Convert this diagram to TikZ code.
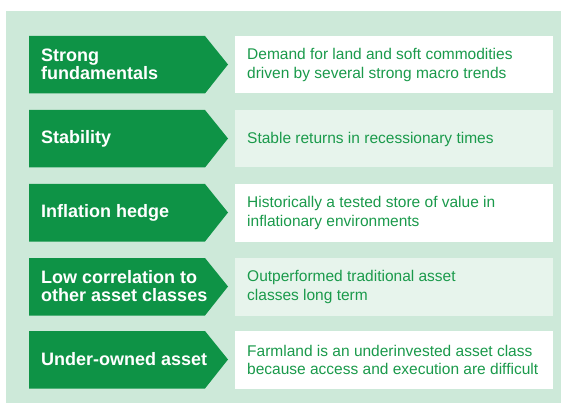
\documentclass[tikz,border=0pt]{standalone}
\usepackage{fontspec}
\setmainfont{Liberation Sans}
\definecolor{panel}{HTML}{CDE9D9}
\definecolor{arrowgreen}{HTML}{0E9346}
\definecolor{lightbox}{HTML}{E7F4EC}
\definecolor{textgreen}{HTML}{1A9A4B}
\tikzset{
  lefttext/.style={anchor=west, align=left, text=white, font=\fontsize{18}{18}\selectfont\bfseries, inner sep=0pt},
  righttext/.style={anchor=west, align=left, text=textgreen, font=\fontsize{15.5}{18.5}\selectfont, inner sep=0pt},
}
\begin{document}
\begin{tikzpicture}[x=1pt,y=-1pt]
\useasboundingbox (0,0) rectangle (561,403);
\fill[white] (0,0) rectangle (561,403);
\fill[panel] (6,11) rectangle (561,403);
\foreach \t/\fc/\L/\R [count=\i] in {
  36/white/{Strong\\fundamentals}/{Demand for land and soft commodities\\driven by several strong macro trends},
  110/lightbox/{Stability}/{Stable returns in recessionary times},
  184/white/{Inflation hedge}/{Historically a tested store of value in\\inflationary environments},
  258/lightbox/{Low correlation to\\other asset classes}/{Outperformed traditional asset\\classes long term},
  331/white/{Under-owned asset}/{Farmland is an underinvested asset class\\because access and execution are difficult}} {
  \fill[arrowgreen] (29,\t) -- (205,\t) -- (228,\t+28.5) -- (205,\t+57.5) -- (29,\t+57.5) -- cycle;
  \fill[\fc] (235,\t) rectangle (553,\t+57.5);
  \node[lefttext] (l\i) at (41,\t+28.5) {\L};
  \node[righttext] (r\i) at (247,\t+29) {\R};
}
\end{tikzpicture}
\end{document}
